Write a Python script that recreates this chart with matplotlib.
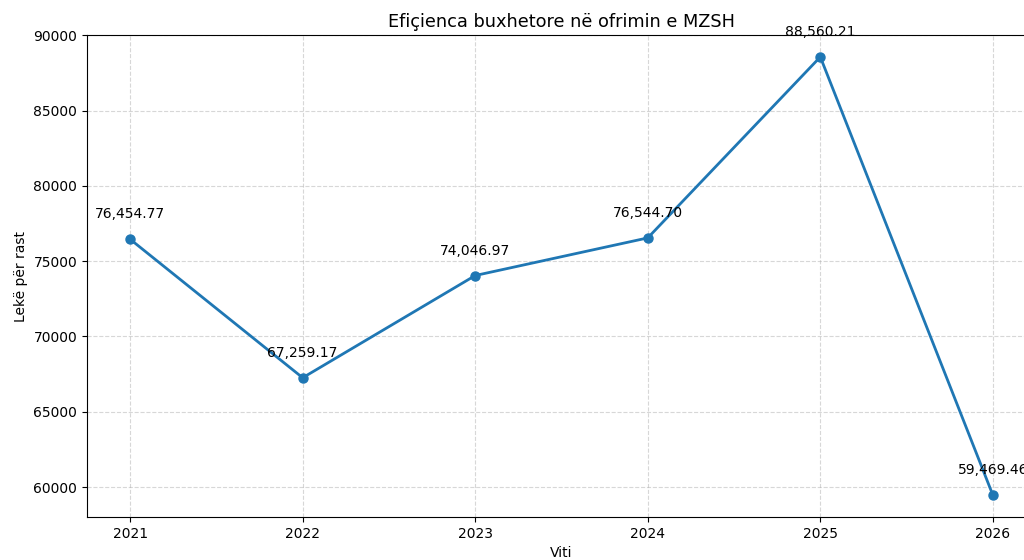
import matplotlib
matplotlib.use("Agg")
import matplotlib.pyplot as plt

vitet = [2021, 2022, 2023, 2024, 2025, 2026]
leke_per_rast = [76454.77, 67259.17, 74046.97, 76544.70, 88560.21, 59469.46]

fig = plt.figure(figsize=(10.24, 5.6), dpi=100)
# axes run past the right edge, like the cropped original
ax = fig.add_axes([87/1024, 43/560, 949/1024, 482/560])

ax.plot(vitet, leke_per_rast, marker='o', linewidth=2, markersize=6.5, color='#1f77b4')
for x, y in zip(vitet, leke_per_rast):
    ax.annotate(f"{y:,.2f}", (x, y), textcoords='offset points', xytext=(0, 15),
                ha='center', fontsize=10)

ax.set_title("Efiçienca buxhetore në ofrimin e MZSH", fontsize=12.8)
ax.set_xlabel("Viti", fontsize=10)
ax.set_ylabel("Lekë për rast", fontsize=10)
ax.set_xticks(vitet)
ax.tick_params(labelsize=10)
ax.grid(True, linestyle='--', alpha=0.5)

fig.savefig("out.png", dpi=100)
